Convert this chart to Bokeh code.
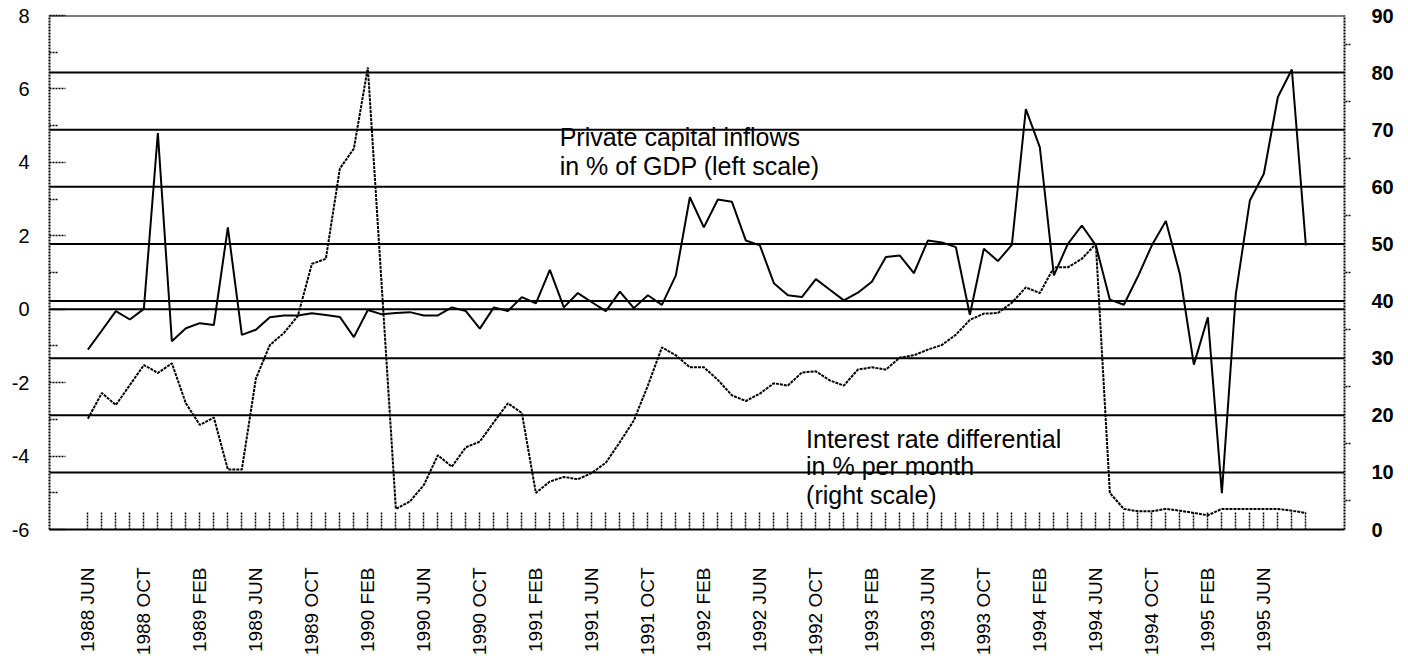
import math
from bokeh.plotting import figure
from bokeh.models import Range1d, LinearAxis, FixedTicker, Span, Label
from bokeh.embed import file_html
from bokeh.resources import INLINE

# ---------------- data ----------------
tick_labels = ["1988 JUN", "1988 OCT", "1989 FEB", "1989 JUN", "1989 OCT",
               "1990 FEB", "1990 JUN", "1990 OCT", "1991 FEB", "1991 JUN",
               "1991 OCT", "1992 FEB", "1992 JUN", "1992 OCT", "1993 FEB",
               "1993 JUN", "1993 OCT", "1994 FEB", "1994 JUN", "1994 OCT",
               "1995 FEB", "1995 JUN"]

# Private capital inflows, % of GDP (left scale), monthly from 1988 JUN
capital_inflows = [
    -1.10, -0.58, -0.05, -0.28, 0.01, 4.80, -0.87, -0.52, -0.38, -0.43,
    2.23, -0.70, -0.56, -0.22, -0.17, -0.17, -0.11, -0.16, -0.21, -0.76,
    -0.02, -0.14, -0.10, -0.08, -0.17, -0.17, 0.05, -0.05, -0.53, 0.05,
    -0.05, 0.33, 0.16, 1.07, 0.05, 0.44, 0.19, -0.05, 0.48, 0.03,
    0.38, 0.12, 0.92, 3.05, 2.23, 2.99, 2.93, 1.87, 1.74, 0.71,
    0.38, 0.33, 0.82, 0.53, 0.24, 0.45, 0.75, 1.42, 1.46, 0.98,
    1.87, 1.82, 1.69, -0.15, 1.65, 1.31, 1.75, 5.45, 4.41, 0.92,
    1.78, 2.28, 1.74, 0.26, 0.12, 0.89, 1.74, 2.40, 0.96, -1.51,
    -0.22, -5.01, 0.42, 2.96, 3.69, 5.78, 6.53, 1.74]

# Interest rate differential, % per month (right scale)
interest_diff = [
    19.4, 23.9, 21.8, 25.3, 28.8, 27.4, 29.1, 22.1, 18.3, 19.6,
    10.5, 10.5, 26.4, 32.3, 34.4, 37.4, 46.5, 47.4, 63.2, 66.7,
    80.9, 42.3, 3.6, 4.9, 7.8, 13.0, 11.0, 14.4, 15.4, 18.8,
    22.1, 20.4, 6.4, 8.4, 9.2, 8.8, 9.9, 11.7, 15.3, 19.1,
    25.2, 31.9, 30.5, 28.4, 28.4, 26.2, 23.5, 22.5, 23.8, 25.6,
    25.2, 27.5, 27.7, 26.1, 25.2, 28.0, 28.4, 28.0, 30.1, 30.5,
    31.5, 32.3, 34.1, 36.7, 37.8, 37.9, 39.7, 42.4, 41.4, 45.9,
    45.9, 47.4, 50.0, 6.4, 3.6, 3.2, 3.2, 3.6, 3.3, 2.9,
    2.5, 3.6, 3.6, 3.6, 3.6, 3.6, 3.3, 2.9]

left_ticks = [-6, -4, -2, 0, 2, 4, 6, 8]
left_minor = [-5, -3, -1, 1, 3, 5, 7]
right_ticks = [0, 10, 20, 30, 40, 50, 60, 70, 80, 90]
right_minor = [5, 15, 25, 35, 45, 55, 65, 75, 85]
right_grid = [10, 20, 30, 40, 50, 60, 70, 80]

months = list(range(len(capital_inflows)))

FONT = "Liberation Sans"

p = figure(width=1408, height=664,
           output_backend="svg", toolbar_location=None,
           x_range=Range1d(-2.74, 89.76), y_range=Range1d(-6, 8),
           x_axis_type=None, y_axis_type=None,
           min_border_left=49, min_border_right=64, min_border_top=15,
           min_border_bottom=135)
p.extra_y_ranges = {"r": Range1d(0, 90)}
p.outline_line_color = None
p.background_fill_color = "white"

# grid lines (right scale), zero line (left scale) and top border
for g in right_grid:
    p.add_layout(Span(location=g, dimension="width", y_range_name="r",
                      line_color="black", line_width=2, level="underlay"))
p.add_layout(Span(location=0, dimension="width", line_color="black",
                  line_width=2, level="underlay"))
p.add_layout(Span(location=8, dimension="width", line_color="black",
                  line_width=2))

# series
p.line(months, capital_inflows, line_color="black", line_width=2)
p.line(months, interest_diff, y_range_name="r", line_color="black",
       line_width=2, line_dash="3 1")

# bottom axis
overrides = {m: "" for m in months}
for k, lab in enumerate(tick_labels):
    overrides[4 * k] = lab
xax = LinearAxis(ticker=FixedTicker(ticks=months, minor_ticks=[]),
                 major_label_overrides=overrides,
                 major_label_orientation=math.pi / 2,
                 major_tick_in=17, major_tick_out=0,
                 major_tick_line_dash="2 1", major_tick_line_width=1.5,
                 minor_tick_in=0, minor_tick_out=0,
                 axis_line_width=2, axis_line_color="black",
                 major_label_standoff=38,
                 major_label_text_font=FONT,
                 major_label_text_font_size="19px",
                 major_label_text_color="black")
p.add_layout(xax, "below")

# left axis (plain hyphen minus signs as in the original)
left_over = {t: str(t) for t in left_ticks}
yax = LinearAxis(ticker=FixedTicker(ticks=left_ticks, minor_ticks=left_minor),
                 major_label_overrides=left_over,
                 major_tick_in=16, major_tick_out=0,
                 minor_tick_in=8, minor_tick_out=0,
                 major_tick_line_dash="2 1", minor_tick_line_dash="2 1",
                 major_tick_line_width=1.5, minor_tick_line_width=1.5,
                 axis_line_dash="2 1", axis_line_width=2,
                 major_label_standoff=20,
                 major_label_text_font=FONT,
                 major_label_text_font_size="20px",
                 major_label_text_color="black")
p.add_layout(yax, "left")

# right axis
rax = LinearAxis(y_range_name="r",
                 ticker=FixedTicker(ticks=right_ticks, minor_ticks=right_minor),
                 major_tick_in=0, major_tick_out=0,
                 minor_tick_in=0, minor_tick_out=6,
                 minor_tick_line_dash="2 1", minor_tick_line_width=1.5,
                 axis_line_dash="2 1", axis_line_width=2,
                 major_label_standoff=21,
                 major_label_text_font=FONT,
                 major_label_text_font_style="bold",
                 major_label_text_font_size="20px",
                 major_label_text_color="black")
p.add_layout(rax, "right")

# annotations
ann = [
    (33.7, 4.70, "Private capital inflows"),
    (33.7, 3.91, "in % of GDP (left scale)"),
    (51.3, -3.53, "Interest rate differential"),
    (51.3, -4.28, "in % per month"),
    (51.3, -5.07, "(right scale)"),
]
for ax_, ay_, t in ann:
    p.add_layout(Label(x=ax_, y=ay_, text=t, text_font=FONT,
                       text_font_size="25px", text_baseline="alphabetic",
                       text_align="left", text_color="black"))

open("out.html", "w").write(file_html(p, INLINE))
